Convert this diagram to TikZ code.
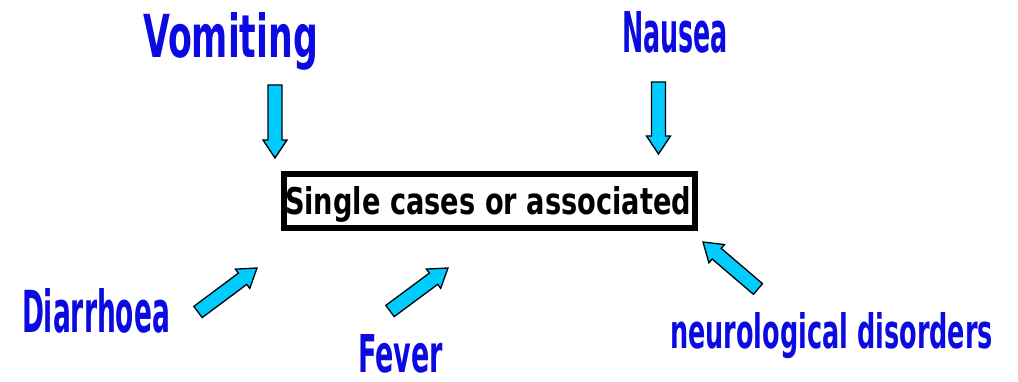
\documentclass[tikz,border=0pt]{standalone}
\usepackage{fontspec}
\usepackage{graphicx}
\setmainfont{DejaVu Sans}
\usetikzlibrary{calc}
\definecolor{lblblue}{RGB}{10,10,225}
\definecolor{arrcyan}{RGB}{0,204,255}
\newcommand\fitlbl[3]{\resizebox{#1pt}{#2pt}{\bfseries #3}}
\tikzset{
  lbl/.style={anchor=base west, inner sep=0pt, outer sep=0pt, text=lblblue},
  maintext/.style={anchor=base west, inner sep=0pt, outer sep=0pt, text=black},
  mainbox/.style={draw=black, line width=6pt, minimum width=411pt, minimum height=54pt, inner sep=0pt},
  blockarrow/.style={fill=arrcyan, draw=black, line width=1.3pt, line join=miter},
}
\newcommand\blockarr[2]{%
  \coordinate (ba-h) at ($(#2)!18pt!(#1)$);
  \draw[blockarrow] ($(#1)!7pt!90:(#2)$) -- ($(ba-h)!7pt!90:(#2)$) -- ($(ba-h)!12pt!90:(#2)$)
    -- (#2) -- ($(ba-h)!12pt!-90:(#2)$) -- ($(ba-h)!7pt!-90:(#2)$) -- ($(#1)!7pt!-90:(#2)$) -- cycle;
}
\begin{document}
\begin{tikzpicture}[x=1pt,y=-1pt]
  \useasboundingbox (0,0) rectangle (1018,382);
  % central box
  \node[mainbox] (box) at (489.5,201) {};
  \node[maintext] (boxtext) at (285,215) {\fitlbl{406}{28}{Single cases or associated}};
  % labels
  \node[lbl] (vom) at (143,58) {\fitlbl{175}{45}{Vomiting}};
  \node[lbl] (nau) at (622,53) {\fitlbl{106}{41}{Nausea}};
  \node[lbl] (dia) at (22,332) {\fitlbl{148}{44}{Diarrhoea}};
  \node[lbl] (fev) at (358,372) {\fitlbl{85}{38}{Fever}};
  \node[lbl] (neu) at (670,348) {\fitlbl{323}{36}{neurological disorders}};
  % arrow end points
  \coordinate (vomT) at (275,85);   \coordinate (vomH) at (275,158);
  \coordinate (nauT) at (658.5,82); \coordinate (nauH) at (658.5,154);
  \coordinate (diaT) at (198,312);  \coordinate (diaH) at (257,268);
  \coordinate (fevT) at (390,311);  \coordinate (fevH) at (448,268);
  \coordinate (neuT) at (758,289);  \coordinate (neuH) at (703,242);
  \blockarr{vomT}{vomH}
  \blockarr{nauT}{nauH}
  \blockarr{diaT}{diaH}
  \blockarr{fevT}{fevH}
  \blockarr{neuT}{neuH}
\end{tikzpicture}
\end{document}
